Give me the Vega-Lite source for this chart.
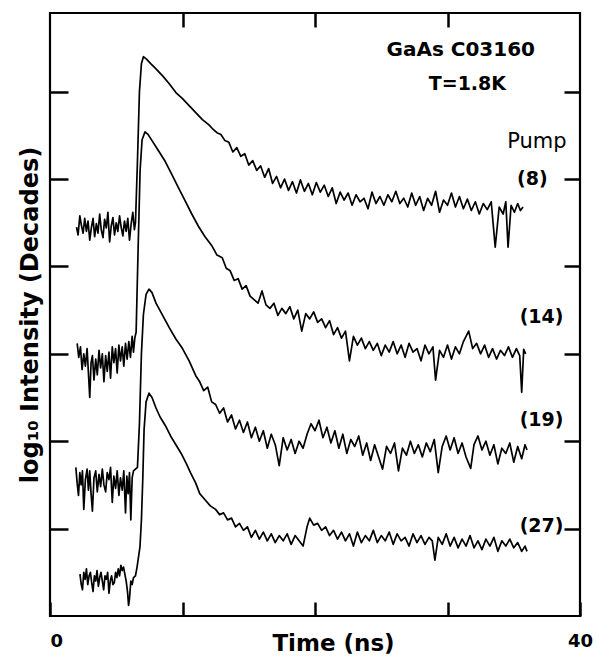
{
  "$schema": "https://vega.github.io/schema/vega-lite/v6.json",
  "width": 530,
  "height": 603,
  "autosize": "none",
  "padding": {"left": 50, "top": 13, "right": 17, "bottom": 43},
  "background": "white",
  "config": {
    "view": {"stroke": "black", "strokeWidth": 2.2},
    "axis": {"domain": false, "grid": false, "tickColor": "black", "tickWidth": 2.5, "labelColor": "black", "titleColor": "black"}
  },
  "resolve": {"axis": {"x": "independent", "y": "independent"}},
  "layer": [
    {
      "data": {"values": [
        {"s":"8","t":2.0,"d":4.45},{"s":"8","t":2.12,"d":4.36},{"s":"8","t":2.25,"d":4.58},{"s":"8","t":2.37,"d":4.47},{"s":"8","t":2.5,"d":4.38},{"s":"8","t":2.62,"d":4.55},{"s":"8","t":2.75,"d":4.40},{"s":"8","t":2.87,"d":4.52},{"s":"8","t":3.0,"d":4.30},{"s":"8","t":3.12,"d":4.44},{"s":"8","t":3.25,"d":4.55},{"s":"8","t":3.37,"d":4.34},{"s":"8","t":3.5,"d":4.49},{"s":"8","t":3.62,"d":4.38},{"s":"8","t":3.75,"d":4.60},{"s":"8","t":3.87,"d":4.42},{"s":"8","t":4.0,"d":4.33},{"s":"8","t":4.12,"d":4.54},{"s":"8","t":4.25,"d":4.44},{"s":"8","t":4.37,"d":4.62},{"s":"8","t":4.5,"d":4.28},{"s":"8","t":4.62,"d":4.46},{"s":"8","t":4.75,"d":4.56},{"s":"8","t":4.87,"d":4.36},{"s":"8","t":5.0,"d":4.50},{"s":"8","t":5.12,"d":4.40},{"s":"8","t":5.25,"d":4.58},{"s":"8","t":5.37,"d":4.45},{"s":"8","t":5.5,"d":4.35},{"s":"8","t":5.62,"d":4.52},{"s":"8","t":5.75,"d":4.40},{"s":"8","t":5.87,"d":4.55},{"s":"8","t":6.0,"d":4.30},{"s":"8","t":6.12,"d":4.48},{"s":"8","t":6.25,"d":4.62},{"s":"8","t":6.37,"d":4.42},{"s":"8","t":6.45,"d":4.50},
        {"s":"8","t":6.6,"d":5.2},{"s":"8","t":6.75,"d":6.0},{"s":"8","t":6.9,"d":6.32},{"s":"8","t":7.05,"d":6.40},{"s":"8","t":7.3,"d":6.37},{"s":"8","t":7.6,"d":6.32},{"s":"8","t":8.0,"d":6.26},{"s":"8","t":8.5,"d":6.18},{"s":"8","t":9.0,"d":6.09},{"s":"8","t":9.5,"d":5.99},{"s":"8","t":10.0,"d":5.92},{"s":"8","t":10.5,"d":5.84},{"s":"8","t":11.0,"d":5.76},{"s":"8","t":11.5,"d":5.68},{"s":"8","t":12.0,"d":5.62},{"s":"8","t":12.3,"d":5.57},{"s":"8","t":12.6,"d":5.53},{"s":"8","t":12.9,"d":5.51},{"s":"8","t":13.2,"d":5.44},{"s":"8","t":13.5,"d":5.42},{"s":"8","t":13.8,"d":5.31},{"s":"8","t":14.1,"d":5.36},{"s":"8","t":14.4,"d":5.26},{"s":"8","t":14.7,"d":5.29},{"s":"8","t":15.0,"d":5.16},{"s":"8","t":15.3,"d":5.21},{"s":"8","t":15.6,"d":5.10},{"s":"8","t":15.9,"d":5.15},{"s":"8","t":16.2,"d":5.02},{"s":"8","t":16.5,"d":5.12},{"s":"8","t":16.8,"d":4.95},{"s":"8","t":17.1,"d":5.03},{"s":"8","t":17.4,"d":4.90},{"s":"8","t":17.7,"d":5.00},{"s":"8","t":18.0,"d":4.87},{"s":"8","t":18.3,"d":4.97},{"s":"8","t":18.6,"d":4.84},{"s":"8","t":18.9,"d":4.99},{"s":"8","t":19.2,"d":4.86},{"s":"8","t":19.5,"d":4.95},{"s":"8","t":19.8,"d":4.82},{"s":"8","t":20.1,"d":4.96},{"s":"8","t":20.4,"d":4.85},{"s":"8","t":20.7,"d":4.93},{"s":"8","t":21.0,"d":4.80},{"s":"8","t":21.3,"d":4.90},{"s":"8","t":21.6,"d":4.72},{"s":"8","t":21.9,"d":4.85},{"s":"8","t":22.2,"d":4.76},{"s":"8","t":22.5,"d":4.84},{"s":"8","t":22.8,"d":4.70},{"s":"8","t":23.1,"d":4.82},{"s":"8","t":23.4,"d":4.74},{"s":"8","t":23.7,"d":4.78},{"s":"8","t":24.0,"d":4.66},{"s":"8","t":24.3,"d":4.85},{"s":"8","t":24.6,"d":4.72},{"s":"8","t":24.9,"d":4.80},{"s":"8","t":25.2,"d":4.70},{"s":"8","t":25.5,"d":4.82},{"s":"8","t":25.8,"d":4.74},{"s":"8","t":26.1,"d":4.86},{"s":"8","t":26.4,"d":4.72},{"s":"8","t":26.7,"d":4.78},{"s":"8","t":27.0,"d":4.68},{"s":"8","t":27.3,"d":4.84},{"s":"8","t":27.6,"d":4.70},{"s":"8","t":27.9,"d":4.80},{"s":"8","t":28.2,"d":4.64},{"s":"8","t":28.5,"d":4.78},{"s":"8","t":28.8,"d":4.70},{"s":"8","t":29.1,"d":4.86},{"s":"8","t":29.4,"d":4.62},{"s":"8","t":29.7,"d":4.76},{"s":"8","t":30.0,"d":4.70},{"s":"8","t":30.3,"d":4.84},{"s":"8","t":30.6,"d":4.68},{"s":"8","t":30.9,"d":4.80},{"s":"8","t":31.2,"d":4.66},{"s":"8","t":31.5,"d":4.77},{"s":"8","t":31.8,"d":4.64},{"s":"8","t":32.1,"d":4.74},{"s":"8","t":32.4,"d":4.60},{"s":"8","t":32.7,"d":4.72},{"s":"8","t":33.0,"d":4.65},{"s":"8","t":33.3,"d":4.74},{"s":"8","t":33.6,"d":4.22},{"s":"8","t":33.9,"d":4.68},{"s":"8","t":34.2,"d":4.60},{"s":"8","t":34.4,"d":4.74},{"s":"8","t":34.57,"d":4.22},{"s":"8","t":34.8,"d":4.70},{"s":"8","t":35.05,"d":4.62},{"s":"8","t":35.3,"d":4.72},{"s":"8","t":35.5,"d":4.64},{"s":"8","t":35.7,"d":4.68},

        {"s":"14","t":2.05,"d":3.12},{"s":"14","t":2.17,"d":2.96},{"s":"14","t":2.3,"d":3.08},{"s":"14","t":2.42,"d":2.82},{"s":"14","t":2.55,"d":3.00},{"s":"14","t":2.67,"d":2.86},{"s":"14","t":2.8,"d":3.06},{"s":"14","t":2.9,"d":2.78},{"s":"14","t":3.0,"d":2.50},{"s":"14","t":3.1,"d":2.90},{"s":"14","t":3.2,"d":2.98},{"s":"14","t":3.32,"d":2.70},{"s":"14","t":3.45,"d":2.94},{"s":"14","t":3.57,"d":2.76},{"s":"14","t":3.7,"d":3.04},{"s":"14","t":3.82,"d":2.84},{"s":"14","t":3.95,"d":3.00},{"s":"14","t":4.07,"d":2.68},{"s":"14","t":4.2,"d":2.98},{"s":"14","t":4.32,"d":2.80},{"s":"14","t":4.45,"d":3.02},{"s":"14","t":4.57,"d":2.72},{"s":"14","t":4.7,"d":3.08},{"s":"14","t":4.82,"d":2.90},{"s":"14","t":4.95,"d":3.06},{"s":"14","t":5.07,"d":2.78},{"s":"14","t":5.2,"d":3.10},{"s":"14","t":5.32,"d":2.92},{"s":"14","t":5.45,"d":3.08},{"s":"14","t":5.57,"d":2.86},{"s":"14","t":5.7,"d":3.12},{"s":"14","t":5.82,"d":2.94},{"s":"14","t":5.95,"d":3.14},{"s":"14","t":6.07,"d":2.96},{"s":"14","t":6.2,"d":3.20},{"s":"14","t":6.3,"d":3.02},{"s":"14","t":6.4,"d":3.18},{"s":"14","t":6.5,"d":3.25},
        {"s":"14","t":6.65,"d":4.2},{"s":"14","t":6.8,"d":5.1},{"s":"14","t":6.95,"d":5.45},{"s":"14","t":7.17,"d":5.54},{"s":"14","t":7.4,"d":5.51},{"s":"14","t":7.7,"d":5.44},{"s":"14","t":8.2,"d":5.32},{"s":"14","t":8.7,"d":5.20},{"s":"14","t":9.2,"d":5.05},{"s":"14","t":9.7,"d":4.90},{"s":"14","t":10.2,"d":4.75},{"s":"14","t":10.7,"d":4.60},{"s":"14","t":11.2,"d":4.46},{"s":"14","t":11.7,"d":4.34},{"s":"14","t":12.2,"d":4.24},{"s":"14","t":12.6,"d":4.13},{"s":"14","t":13.0,"d":4.10},{"s":"14","t":13.3,"d":3.98},{"s":"14","t":13.6,"d":3.95},{"s":"14","t":13.9,"d":3.84},{"s":"14","t":14.2,"d":3.86},{"s":"14","t":14.5,"d":3.74},{"s":"14","t":14.8,"d":3.78},{"s":"14","t":15.1,"d":3.66},{"s":"14","t":15.4,"d":3.62},{"s":"14","t":15.7,"d":3.58},{"s":"14","t":16.0,"d":3.72},{"s":"14","t":16.3,"d":3.56},{"s":"14","t":16.6,"d":3.52},{"s":"14","t":16.9,"d":3.58},{"s":"14","t":17.2,"d":3.44},{"s":"14","t":17.5,"d":3.52},{"s":"14","t":17.8,"d":3.46},{"s":"14","t":18.1,"d":3.54},{"s":"14","t":18.4,"d":3.40},{"s":"14","t":18.7,"d":3.50},{"s":"14","t":19.0,"d":3.26},{"s":"14","t":19.3,"d":3.46},{"s":"14","t":19.6,"d":3.40},{"s":"14","t":19.9,"d":3.48},{"s":"14","t":20.2,"d":3.36},{"s":"14","t":20.5,"d":3.40},{"s":"14","t":20.8,"d":3.30},{"s":"14","t":21.1,"d":3.38},{"s":"14","t":21.4,"d":3.22},{"s":"14","t":21.7,"d":3.30},{"s":"14","t":22.0,"d":3.18},{"s":"14","t":22.3,"d":3.26},{"s":"14","t":22.6,"d":2.92},{"s":"14","t":22.9,"d":3.20},{"s":"14","t":23.2,"d":3.10},{"s":"14","t":23.5,"d":3.18},{"s":"14","t":23.8,"d":3.06},{"s":"14","t":24.1,"d":3.14},{"s":"14","t":24.4,"d":3.04},{"s":"14","t":24.7,"d":3.12},{"s":"14","t":25.0,"d":2.98},{"s":"14","t":25.3,"d":3.10},{"s":"14","t":25.6,"d":3.02},{"s":"14","t":25.9,"d":3.14},{"s":"14","t":26.2,"d":3.00},{"s":"14","t":26.5,"d":3.10},{"s":"14","t":26.8,"d":2.96},{"s":"14","t":27.1,"d":3.12},{"s":"14","t":27.4,"d":3.02},{"s":"14","t":27.7,"d":3.06},{"s":"14","t":28.0,"d":2.92},{"s":"14","t":28.3,"d":3.10},{"s":"14","t":28.6,"d":3.00},{"s":"14","t":28.9,"d":3.08},{"s":"14","t":29.1,"d":2.70},{"s":"14","t":29.4,"d":3.04},{"s":"14","t":29.7,"d":2.96},{"s":"14","t":30.0,"d":3.10},{"s":"14","t":30.3,"d":2.94},{"s":"14","t":30.6,"d":3.08},{"s":"14","t":30.9,"d":3.00},{"s":"14","t":31.2,"d":3.14},{"s":"14","t":31.6,"d":3.26},{"s":"14","t":31.9,"d":3.06},{"s":"14","t":32.2,"d":3.12},{"s":"14","t":32.5,"d":3.00},{"s":"14","t":32.8,"d":3.10},{"s":"14","t":33.1,"d":2.96},{"s":"14","t":33.4,"d":3.06},{"s":"14","t":33.7,"d":2.94},{"s":"14","t":34.0,"d":3.04},{"s":"14","t":34.3,"d":2.98},{"s":"14","t":34.6,"d":3.08},{"s":"14","t":34.9,"d":2.96},{"s":"14","t":35.2,"d":3.06},{"s":"14","t":35.45,"d":2.98},{"s":"14","t":35.6,"d":2.56},{"s":"14","t":35.75,"d":3.05},{"s":"14","t":35.9,"d":3.00},

        {"s":"19","t":1.95,"d":1.70},{"s":"19","t":2.05,"d":1.52},{"s":"19","t":2.15,"d":1.38},{"s":"19","t":2.25,"d":1.64},{"s":"19","t":2.35,"d":1.50},{"s":"19","t":2.45,"d":1.66},{"s":"19","t":2.55,"d":1.22},{"s":"19","t":2.67,"d":1.56},{"s":"19","t":2.8,"d":1.68},{"s":"19","t":2.9,"d":1.44},{"s":"19","t":3.0,"d":1.66},{"s":"19","t":3.1,"d":1.40},{"s":"19","t":3.2,"d":1.20},{"s":"19","t":3.32,"d":1.58},{"s":"19","t":3.45,"d":1.66},{"s":"19","t":3.57,"d":1.42},{"s":"19","t":3.7,"d":1.62},{"s":"19","t":3.82,"d":1.48},{"s":"19","t":3.95,"d":1.68},{"s":"19","t":4.07,"d":1.50},{"s":"19","t":4.2,"d":1.42},{"s":"19","t":4.32,"d":1.64},{"s":"19","t":4.45,"d":1.56},{"s":"19","t":4.57,"d":1.70},{"s":"19","t":4.7,"d":1.30},{"s":"19","t":4.82,"d":1.60},{"s":"19","t":4.95,"d":1.46},{"s":"19","t":5.07,"d":1.66},{"s":"19","t":5.2,"d":1.38},{"s":"19","t":5.32,"d":1.58},{"s":"19","t":5.45,"d":1.44},{"s":"19","t":5.57,"d":1.66},{"s":"19","t":5.7,"d":1.18},{"s":"19","t":5.8,"d":1.60},{"s":"19","t":5.9,"d":1.40},{"s":"19","t":6.0,"d":1.64},{"s":"19","t":6.1,"d":1.10},{"s":"19","t":6.2,"d":1.58},{"s":"19","t":6.3,"d":1.66},{"s":"19","t":6.45,"d":1.68},{"s":"19","t":6.6,"d":1.70},
        {"s":"19","t":6.75,"d":2.2},{"s":"19","t":6.9,"d":3.0},{"s":"19","t":7.05,"d":3.45},{"s":"19","t":7.25,"d":3.68},{"s":"19","t":7.47,"d":3.74},{"s":"19","t":7.7,"d":3.70},{"s":"19","t":8.0,"d":3.58},{"s":"19","t":8.5,"d":3.44},{"s":"19","t":9.0,"d":3.30},{"s":"19","t":9.5,"d":3.17},{"s":"19","t":10.0,"d":3.06},{"s":"19","t":10.5,"d":2.92},{"s":"19","t":11.0,"d":2.75},{"s":"19","t":11.3,"d":2.68},{"s":"19","t":11.6,"d":2.58},{"s":"19","t":11.9,"d":2.62},{"s":"19","t":12.2,"d":2.45},{"s":"19","t":12.5,"d":2.42},{"s":"19","t":12.8,"d":2.32},{"s":"19","t":13.1,"d":2.38},{"s":"19","t":13.4,"d":2.22},{"s":"19","t":13.7,"d":2.30},{"s":"19","t":14.0,"d":2.14},{"s":"19","t":14.3,"d":2.24},{"s":"19","t":14.6,"d":2.10},{"s":"19","t":14.9,"d":2.22},{"s":"19","t":15.2,"d":2.04},{"s":"19","t":15.5,"d":2.16},{"s":"19","t":15.8,"d":2.00},{"s":"19","t":16.1,"d":2.12},{"s":"19","t":16.4,"d":1.92},{"s":"19","t":16.7,"d":2.08},{"s":"19","t":17.0,"d":1.96},{"s":"19","t":17.3,"d":1.72},{"s":"19","t":17.6,"d":2.04},{"s":"19","t":17.9,"d":1.90},{"s":"19","t":18.2,"d":2.02},{"s":"19","t":18.5,"d":1.86},{"s":"19","t":18.8,"d":2.00},{"s":"19","t":19.1,"d":1.92},{"s":"19","t":19.4,"d":2.08},{"s":"19","t":19.7,"d":2.20},{"s":"19","t":20.0,"d":2.12},{"s":"19","t":20.3,"d":2.24},{"s":"19","t":20.6,"d":2.04},{"s":"19","t":20.9,"d":2.16},{"s":"19","t":21.2,"d":1.98},{"s":"19","t":21.5,"d":2.12},{"s":"19","t":21.8,"d":1.92},{"s":"19","t":22.1,"d":2.08},{"s":"19","t":22.4,"d":1.86},{"s":"19","t":22.7,"d":2.02},{"s":"19","t":23.0,"d":1.94},{"s":"19","t":23.3,"d":2.06},{"s":"19","t":23.6,"d":1.84},{"s":"19","t":23.9,"d":1.98},{"s":"19","t":24.2,"d":1.78},{"s":"19","t":24.5,"d":1.96},{"s":"19","t":24.8,"d":1.82},{"s":"19","t":25.1,"d":1.68},{"s":"19","t":25.4,"d":1.94},{"s":"19","t":25.7,"d":1.86},{"s":"19","t":26.0,"d":1.98},{"s":"19","t":26.3,"d":1.66},{"s":"19","t":26.6,"d":1.92},{"s":"19","t":26.9,"d":1.84},{"s":"19","t":27.2,"d":2.00},{"s":"19","t":27.5,"d":1.86},{"s":"19","t":27.8,"d":1.96},{"s":"19","t":28.1,"d":1.82},{"s":"19","t":28.4,"d":1.98},{"s":"19","t":28.7,"d":1.88},{"s":"19","t":29.0,"d":2.02},{"s":"19","t":29.3,"d":1.64},{"s":"19","t":29.6,"d":1.94},{"s":"19","t":29.9,"d":2.06},{"s":"19","t":30.2,"d":1.90},{"s":"19","t":30.5,"d":2.04},{"s":"19","t":30.8,"d":1.86},{"s":"19","t":31.1,"d":1.98},{"s":"19","t":31.4,"d":1.82},{"s":"19","t":31.75,"d":1.69},{"s":"19","t":32.0,"d":1.96},{"s":"19","t":32.3,"d":2.06},{"s":"19","t":32.6,"d":1.90},{"s":"19","t":32.9,"d":2.00},{"s":"19","t":33.2,"d":1.84},{"s":"19","t":33.5,"d":1.96},{"s":"19","t":33.8,"d":1.74},{"s":"19","t":34.1,"d":1.92},{"s":"19","t":34.4,"d":1.86},{"s":"19","t":34.7,"d":1.98},{"s":"19","t":35.0,"d":1.76},{"s":"19","t":35.3,"d":1.94},{"s":"19","t":35.6,"d":1.80},{"s":"19","t":35.85,"d":1.96},{"s":"19","t":36.0,"d":1.90},

        {"s":"27","t":2.26,"d":0.48},{"s":"27","t":2.36,"d":0.36},{"s":"27","t":2.45,"d":0.30},{"s":"27","t":2.55,"d":0.50},{"s":"27","t":2.65,"d":0.42},{"s":"27","t":2.75,"d":0.54},{"s":"27","t":2.85,"d":0.36},{"s":"27","t":2.95,"d":0.46},{"s":"27","t":3.05,"d":0.50},{"s":"27","t":3.15,"d":0.38},{"s":"27","t":3.25,"d":0.28},{"s":"27","t":3.35,"d":0.46},{"s":"27","t":3.45,"d":0.40},{"s":"27","t":3.55,"d":0.52},{"s":"27","t":3.65,"d":0.34},{"s":"27","t":3.75,"d":0.44},{"s":"27","t":3.85,"d":0.50},{"s":"27","t":3.95,"d":0.40},{"s":"27","t":4.05,"d":0.30},{"s":"27","t":4.15,"d":0.46},{"s":"27","t":4.25,"d":0.42},{"s":"27","t":4.35,"d":0.50},{"s":"27","t":4.45,"d":0.26},{"s":"27","t":4.55,"d":0.40},{"s":"27","t":4.65,"d":0.46},{"s":"27","t":4.75,"d":0.36},{"s":"27","t":4.85,"d":0.38},{"s":"27","t":4.95,"d":0.50},{"s":"27","t":5.05,"d":0.44},{"s":"27","t":5.15,"d":0.54},{"s":"27","t":5.25,"d":0.46},{"s":"27","t":5.35,"d":0.58},{"s":"27","t":5.45,"d":0.52},{"s":"27","t":5.55,"d":0.56},{"s":"27","t":5.65,"d":0.48},{"s":"27","t":5.75,"d":0.40},{"s":"27","t":5.85,"d":0.28},{"s":"27","t":5.93,"d":0.12},{"s":"27","t":6.0,"d":0.20},{"s":"27","t":6.1,"d":0.40},{"s":"27","t":6.2,"d":0.36},{"s":"27","t":6.3,"d":0.44},{"s":"27","t":6.45,"d":0.46},
        {"s":"27","t":6.57,"d":0.56},{"s":"27","t":6.79,"d":0.79},{"s":"27","t":6.9,"d":1.10},{"s":"27","t":7.0,"d":1.56},{"s":"27","t":7.1,"d":2.13},{"s":"27","t":7.25,"d":2.45},{"s":"27","t":7.47,"d":2.55},{"s":"27","t":7.7,"d":2.50},{"s":"27","t":8.0,"d":2.38},{"s":"27","t":8.3,"d":2.28},{"s":"27","t":8.7,"d":2.18},{"s":"27","t":9.1,"d":2.06},{"s":"27","t":9.5,"d":1.96},{"s":"27","t":9.9,"d":1.86},{"s":"27","t":10.3,"d":1.74},{"s":"27","t":10.6,"d":1.64},{"s":"27","t":11.0,"d":1.52},{"s":"27","t":11.3,"d":1.40},{"s":"27","t":11.7,"d":1.33},{"s":"27","t":12.1,"d":1.26},{"s":"27","t":12.5,"d":1.22},{"s":"27","t":12.8,"d":1.16},{"s":"27","t":13.1,"d":1.18},{"s":"27","t":13.4,"d":1.10},{"s":"27","t":13.7,"d":1.12},{"s":"27","t":14.0,"d":1.02},{"s":"27","t":14.3,"d":1.06},{"s":"27","t":14.6,"d":0.98},{"s":"27","t":14.9,"d":1.02},{"s":"27","t":15.2,"d":0.90},{"s":"27","t":15.5,"d":0.98},{"s":"27","t":15.8,"d":0.88},{"s":"27","t":16.1,"d":0.96},{"s":"27","t":16.4,"d":0.86},{"s":"27","t":16.7,"d":0.94},{"s":"27","t":17.0,"d":0.84},{"s":"27","t":17.3,"d":0.92},{"s":"27","t":17.6,"d":0.86},{"s":"27","t":17.9,"d":0.94},{"s":"27","t":18.2,"d":0.82},{"s":"27","t":18.5,"d":0.92},{"s":"27","t":18.8,"d":0.86},{"s":"27","t":19.1,"d":0.80},{"s":"27","t":19.4,"d":1.02},{"s":"27","t":19.6,"d":1.12},{"s":"27","t":19.9,"d":1.04},{"s":"27","t":20.2,"d":1.06},{"s":"27","t":20.5,"d":0.98},{"s":"27","t":20.8,"d":1.02},{"s":"27","t":21.1,"d":0.92},{"s":"27","t":21.4,"d":0.98},{"s":"27","t":21.7,"d":0.88},{"s":"27","t":22.0,"d":0.96},{"s":"27","t":22.3,"d":0.86},{"s":"27","t":22.6,"d":0.94},{"s":"27","t":22.9,"d":0.80},{"s":"27","t":23.2,"d":0.96},{"s":"27","t":23.5,"d":0.84},{"s":"27","t":23.8,"d":0.92},{"s":"27","t":24.1,"d":0.86},{"s":"27","t":24.4,"d":0.98},{"s":"27","t":24.7,"d":0.84},{"s":"27","t":25.0,"d":0.92},{"s":"27","t":25.3,"d":0.86},{"s":"27","t":25.6,"d":0.96},{"s":"27","t":25.9,"d":0.82},{"s":"27","t":26.2,"d":0.94},{"s":"27","t":26.5,"d":0.86},{"s":"27","t":26.8,"d":0.90},{"s":"27","t":27.1,"d":0.80},{"s":"27","t":27.4,"d":0.94},{"s":"27","t":27.7,"d":0.84},{"s":"27","t":28.0,"d":0.92},{"s":"27","t":28.3,"d":0.82},{"s":"27","t":28.6,"d":0.90},{"s":"27","t":28.85,"d":0.86},{"s":"27","t":29.05,"d":0.64},{"s":"27","t":29.3,"d":0.90},{"s":"27","t":29.6,"d":0.82},{"s":"27","t":29.9,"d":0.94},{"s":"27","t":30.2,"d":0.80},{"s":"27","t":30.5,"d":0.90},{"s":"27","t":30.8,"d":0.78},{"s":"27","t":31.1,"d":0.88},{"s":"27","t":31.4,"d":0.80},{"s":"27","t":31.7,"d":0.92},{"s":"27","t":32.0,"d":0.78},{"s":"27","t":32.3,"d":0.86},{"s":"27","t":32.6,"d":0.76},{"s":"27","t":32.9,"d":0.88},{"s":"27","t":33.2,"d":0.80},{"s":"27","t":33.5,"d":0.90},{"s":"27","t":33.8,"d":0.74},{"s":"27","t":34.1,"d":0.86},{"s":"27","t":34.4,"d":0.80},{"s":"27","t":34.7,"d":0.88},{"s":"27","t":35.0,"d":0.78},{"s":"27","t":35.3,"d":0.84},{"s":"27","t":35.6,"d":0.74},{"s":"27","t":35.85,"d":0.80},{"s":"27","t":36.0,"d":0.74}
      ]},
      "mark": {"type": "line", "color": "black", "strokeWidth": 1.7, "strokeJoin": "round", "clip": true},
      "encoding": {
        "x": {"field": "t", "type": "quantitative", "scale": {"domain": [0, 40], "nice": false, "zero": false},
          "axis": {"orient": "bottom", "values": [0, 10, 20, 30, 40], "tickSize": -14, "labelExpr": "datum.value == 0 || datum.value == 40 ? datum.label : ''",
            "labelFont": "DejaVu Sans", "labelFontWeight": "bold", "labelFontSize": 18, "labelPadding": 30,
            "labelAlign": {"condition": {"test": "datum.value == 0", "value": "left"}, "value": "center"},
            "title": "Time  (ns)", "titleFont": "DejaVu Sans", "titleFontWeight": "bold", "titleFontSize": 23,
            "titleX": 283, "titleY": 27, "titleBaseline": "middle", "titleAlign": "center"}},
        "y": {"field": "d", "type": "quantitative", "scale": {"domain": [0, 6.9], "nice": false, "zero": false},
          "axis": {"orient": "left", "values": [1, 2, 3, 4, 5, 6], "tickSize": -18, "labels": false,
            "title": "log₁₀ Intensity  (Decades)", "titleFont": "DejaVu Sans", "titleFontWeight": "bold", "titleFontSize": 24, "titlePadding": 6}},
        "detail": {"field": "s", "type": "nominal"}
      }
    },
    {
      "data": {"values": [
        {"t": 31.0, "d": 6.48, "label": "GaAs C03160"},
        {"t": 31.5, "d": 6.09, "label": "T=1.8K"},
        {"t": 36.4, "d": 5.0, "label": "(8)"},
        {"t": 37.1, "d": 3.42, "label": "(14)"},
        {"t": 37.1, "d": 2.24, "label": "(19)"},
        {"t": 37.1, "d": 1.03, "label": "(27)"}
      ]},
      "mark": {"type": "text", "font": "DejaVu Sans", "fontWeight": "bold", "fontSize": 19, "color": "black", "align": "center", "baseline": "middle"},
      "encoding": {
        "x": {"field": "t", "type": "quantitative",
          "axis": {"orient": "top", "values": [10, 20, 30], "tickSize": -14, "labels": false, "title": null}},
        "y": {"field": "d", "type": "quantitative",
          "axis": {"orient": "right", "values": [1, 2, 3, 4, 5, 6], "tickSize": -16, "labels": false, "title": null}},
        "text": {"field": "label", "type": "nominal"},
        "size": {"condition": {"test": "datum.label == 'GaAs C03160'", "value": 20}, "value": 19}
      }
    },
    {
      "data": {"values": [{"t": 36.75, "d": 5.42, "label": "Pump"}]},
      "mark": {"type": "text", "font": "DejaVu Sans", "fontSize": 21, "color": "black", "align": "center", "baseline": "middle"},
      "encoding": {
        "x": {"field": "t", "type": "quantitative", "axis": null},
        "y": {"field": "d", "type": "quantitative", "axis": null},
        "text": {"field": "label", "type": "nominal"}
      }
    }
  ]
}
